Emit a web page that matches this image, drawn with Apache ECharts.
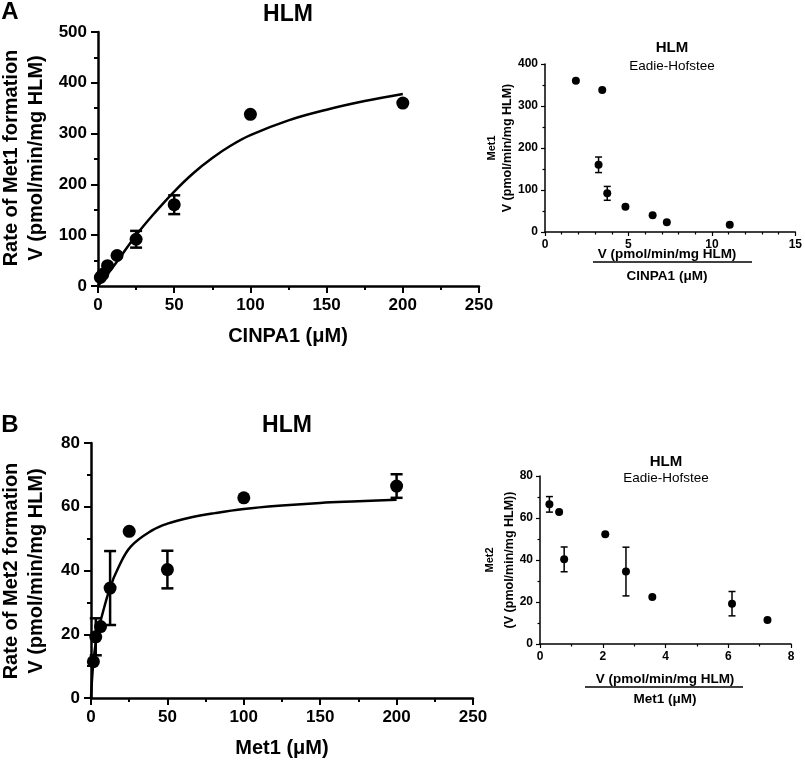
<!DOCTYPE html>
<html>
<head>
<meta charset="utf-8">
<script src="https://cdn.jsdelivr.net/npm/echarts@6/dist/echarts.min.js"></script>
<style>
  html, body { margin: 0; padding: 0; background: #fff; }
  #chart { width: 805px; height: 760px; }
</style>
</head>
<body>
<div id="chart"></div>
<script>
// substrate concentrations (uM)
const conc = [1.5625, 3.125, 6.25, 12.5, 25, 50, 100, 200]

// panel A: Met1 formation from CINPA1
const rateA = [17, 23, 40, 60, 92, 160, 338, 360]
const errA = [0, 0, 0, 0, 16.5, 18.5, 0, 0]
const fitAx = [0, 6, 12.5, 25, 37.5, 50, 62.5, 75, 87.5, 100, 125, 150, 175, 200]
const fitAy = [0, 22, 48, 100, 145, 186, 222, 252, 277, 297, 326, 347, 364, 378]
// Eadie-Hofstee A (V/S)
const ehAx = [11.07, 7.3, 6.45, 4.82, 3.73, 3.21, 3.43, 1.85]

// panel B: Met2 formation from Met1
const rateB = [11.4, 19.2, 22.4, 34.5, 52.3, 40.3, 62.8, 66.5]
const errB = [0, 5.8, 0, 11.6, 0, 5.9, 0, 3.7]
const fitBx = [0, 1.5, 3.7, 7, 12.4, 18, 26, 40, 50, 65, 81, 100, 125, 150, 175, 200]
const fitBy = [0, 11, 19, 25.5, 34.5, 41, 47.5, 52.6, 54.7, 56.6, 58, 59.3, 60.4, 61.2, 61.7, 62.2]
// Eadie-Hofstee B (V/S)
const ehBx = [7.25, 6.12, 3.58, 2.74, 2.08, 0.77, 0.61, 0.3]

const FONT = "'Liberation Sans', Arial, sans-serif"

function pairs(xs, ys) {
  return xs.map((x, i) => [x, ys[i]])
}
function bars(xs, ys, es) {
  return xs.map((x, i) => [x, ys[i] - es[i], ys[i] + es[i]]).filter((d, i) => es[i] > 0)
}

function errSeries(idx, data, capW, lw) {
  return {
    type: 'custom',
    xAxisIndex: idx,
    yAxisIndex: idx,
    data: data,
    encode: { x: 0, y: [1, 2] },
    z: 3,
    renderItem: function (params, api) {
      const x = api.value(0)
      const lo = api.coord([x, api.value(1)])
      const hi = api.coord([x, api.value(2)])
      const style = { stroke: '#000', lineWidth: lw }
      return {
        type: 'group',
        children: [
          { type: 'line', shape: { x1: lo[0], y1: lo[1], x2: hi[0], y2: hi[1] }, style },
          { type: 'line', shape: { x1: lo[0] - capW, y1: lo[1], x2: lo[0] + capW, y2: lo[1] }, style },
          { type: 'line', shape: { x1: hi[0] - capW, y1: hi[1], x2: hi[0] + capW, y2: hi[1] }, style },
        ],
      }
    },
  }
}

function axis(idx, min, max, interval, minorSplit, big) {
  return {
    type: 'value',
    gridIndex: idx,
    min: min,
    max: max,
    interval: interval,
    splitLine: { show: false },
    axisLine: { show: true, onZero: false, lineStyle: { color: '#000', width: big ? 2.5 : 1.5 } },
    axisTick: { show: true, length: big ? 7 : 4, lineStyle: { color: '#000', width: big ? 2 : 1.2 } },
    minorTick: { show: true, splitNumber: minorSplit, length: big ? 4 : 2.5, lineStyle: { color: '#000', width: big ? 2 : 1.2 } },
    axisLabel: {
      color: '#000',
      fontFamily: FONT,
      fontWeight: 'bold',
      fontSize: big ? 17 : 12,
      margin: big ? 11 : 7,
    },
  }
}

function txt(x, y, text, size, bold, rotate) {
  return {
    type: 'text',
    x: x,
    y: y,
    rotation: rotate ? Math.PI / 2 : 0,
    style: {
      text: text,
      fontSize: size,
      fontWeight: bold ? 'bold' : 'normal',
      fontFamily: FONT,
      fill: '#000',
      align: 'center',
      verticalAlign: 'middle',
    },
  }
}
function hline(x1, x2, y) {
  return { type: 'line', shape: { x1: x1, y1: y, x2: x2, y2: y }, style: { stroke: '#000', lineWidth: 1.5 } }
}

const chart = echarts.init(document.getElementById('chart'), null, { renderer: 'canvas' })

const option = {
  backgroundColor: '#fff',
  animation: false,
  grid: [
    { left: 98, top: 32, width: 381, height: 254 },
    { left: 545, top: 64, width: 252, height: 168 },
    { left: 91, top: 443, width: 382, height: 255 },
    { left: 540, top: 476, width: 251, height: 168 },
  ],
  xAxis: [
    axis(0, 0, 250, 50, 2, true),
    axis(1, 0, 15, 5, 5, false),
    axis(2, 0, 250, 50, 2, true),
    axis(3, 0, 8, 2, 2, false),
  ],
  yAxis: [
    axis(0, 0, 500, 100, 2, true),
    axis(1, 0, 400, 100, 2, false),
    axis(2, 0, 80, 20, 2, true),
    axis(3, 0, 80, 20, 2, false),
  ],
  series: [
    // A main
    {
      type: 'line', xAxisIndex: 0, yAxisIndex: 0, data: pairs(fitAx, fitAy),
      showSymbol: false, smooth: 0.4,
      lineStyle: { color: '#000', width: 2.5 }, z: 2,
    },
    {
      type: 'scatter', xAxisIndex: 0, yAxisIndex: 0, data: pairs(conc, rateA),
      symbolSize: 13, itemStyle: { color: '#000', opacity: 1 }, z: 4,
    },
    errSeries(0, bars(conc, rateA, errA), 6, 2.5),
    // A inset
    {
      type: 'scatter', xAxisIndex: 1, yAxisIndex: 1, data: pairs(ehAx, rateA),
      symbolSize: 8, itemStyle: { color: '#000', opacity: 1 }, z: 4,
    },
    errSeries(1, bars(ehAx, rateA, errA), 3.5, 1.5),
    // B main
    {
      type: 'line', xAxisIndex: 2, yAxisIndex: 2, data: pairs(fitBx, fitBy),
      showSymbol: false, smooth: 0.4,
      lineStyle: { color: '#000', width: 2.5 }, z: 2,
    },
    {
      type: 'scatter', xAxisIndex: 2, yAxisIndex: 2, data: pairs(conc, rateB),
      symbolSize: 13, itemStyle: { color: '#000', opacity: 1 }, z: 4,
    },
    errSeries(2, bars(conc, rateB, errB), 6, 2.5),
    // B inset
    {
      type: 'scatter', xAxisIndex: 3, yAxisIndex: 3, data: pairs(ehBx, rateB),
      symbolSize: 8, itemStyle: { color: '#000', opacity: 1 }, z: 4,
    },
    errSeries(3, bars(ehBx, rateB, errB), 3.5, 1.5),
  ],
  graphic: [
    txt(10, 12, 'A', 24, true),
    txt(288, 15, 'HLM', 23, true),
    txt(11, 158, 'Rate of Met1 formation', 20, true, true),
    txt(36, 158, 'V (pmol/min/mg HLM)', 20, true, true),
    txt(288, 336, 'CINPA1 (\u03bcM)', 20, true),
    txt(672, 48, 'HLM', 15, true),
    txt(672, 66, 'Eadie-Hofstee', 13.5, false),
    txt(492, 148, 'Met1', 11, true, true),
    txt(508, 148, 'V (pmol/min/mg HLM)', 12.5, true, true),
    txt(667, 254, 'V (pmol/min/mg HLM)', 13.5, true),
    hline(593, 752, 262),
    txt(667, 276, 'CINPA1 (\u03bcM)', 13.5, true),

    txt(10, 425, 'B', 24, true),
    txt(287, 426, 'HLM', 23, true),
    txt(11, 571, 'Rate of Met2 formation', 20, true, true),
    txt(36, 571, 'V (pmol/min/mg HLM)', 20, true, true),
    txt(282, 748, 'Met1 (\u03bcM)', 20, true),
    txt(666, 462, 'HLM', 15, true),
    txt(666, 478, 'Eadie-Hofstee', 13.5, false),
    txt(490, 560, 'Met2', 11, true, true),
    txt(510, 560, '(V (pmol/min/mg HLM))', 12.5, true, true),
    txt(665, 679, 'V (pmol/min/mg HLM)', 13.5, true),
    hline(585, 743, 687),
    txt(665, 699, 'Met1 (\u03bcM)', 13.5, true),
  ],
}

chart.setOption(option)
</script>
</body>
</html>
